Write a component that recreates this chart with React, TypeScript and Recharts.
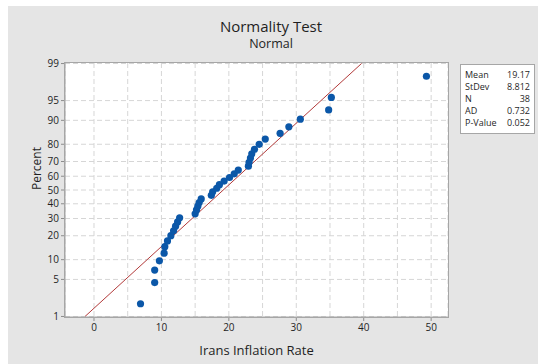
import React from 'react';
import { ScatterChart, Scatter, XAxis, YAxis, CartesianGrid, ReferenceLine } from 'recharts';

// Irans inflation rate, sorted
const rates = [
  6.9, 9.0, 9.0, 9.7, 10.4, 10.5, 10.9, 11.4, 11.8, 12.1, 12.4, 12.7, 15.0, 15.2, 15.4, 15.6,
  15.9, 17.4, 17.6, 18.2, 18.6, 19.3, 20.1, 20.8, 21.4, 22.9, 23.0, 23.2, 23.4, 23.8, 24.5,
  25.4, 27.6, 28.9, 30.6, 34.8, 35.2, 49.3,
];

// plotting positions (percent) for each point
const percents = [
  1.82, 4.43, 7.03, 9.64, 12.24, 14.84, 17.45, 20.05, 22.66, 25.26, 27.86, 30.47, 33.07, 35.68,
  38.28, 40.89, 43.49, 46.09, 48.7, 51.3, 53.91, 56.51, 59.11, 61.72, 64.32, 66.93, 69.53, 72.14,
  74.74, 77.34, 79.95, 82.55, 85.16, 87.76, 90.36, 92.97, 95.57, 98.18,
];

const percentTicks = [1, 5, 10, 20, 30, 40, 50, 60, 70, 80, 90, 95, 99];
const xTicks = [0, 5, 10, 15, 20, 25, 30, 35, 40, 45, 50];

const stats = [
  { label: 'Mean', value: '19.17' },
  { label: 'StDev', value: '8.812' },
  { label: 'N', value: '38' },
  { label: 'AD', value: '0.732' },
  { label: 'P-Value', value: '0.052' },
];

const MEAN = 19.17;
const SD = 8.812;

const FONT = '"Open Sans", "Noto Sans", sans-serif';
const TEXT = '#1f1f1f';
const BLUE = '#0b57a8';
const RED = '#b23a3a';

// inverse standard normal cdf (Acklam), used as the probability scale
function probit(p: number): number {
  const a = [-39.69683028665376, 220.9460984245205, -275.9285104469687, 138.357751867269, -30.66479806614716, 2.506628277459239];
  const b = [-54.47609879822406, 161.5858368580409, -155.6989798598866, 66.80131188771972, -13.28068155288572];
  const c = [-0.007784894002430293, -0.3223964580411365, -2.400758277161838, -2.549732539343734, 4.374664141464968, 2.938163982698783];
  const d = [0.007784695709041462, 0.3224671290700398, 2.445134137142996, 3.754408661907416];
  const lo = 0.02425;
  if (p < lo) {
    const q = Math.sqrt(-2 * Math.log(p));
    return (((((c[0] * q + c[1]) * q + c[2]) * q + c[3]) * q + c[4]) * q + c[5]) / ((((d[0] * q + d[1]) * q + d[2]) * q + d[3]) * q + 1);
  }
  if (p > 1 - lo) {
    const q = Math.sqrt(-2 * Math.log(1 - p));
    return -(((((c[0] * q + c[1]) * q + c[2]) * q + c[3]) * q + c[4]) * q + c[5]) / ((((d[0] * q + d[1]) * q + d[2]) * q + d[3]) * q + 1);
  }
  const q = p - 0.5;
  const r = q * q;
  return ((((((a[0] * r + a[1]) * r + a[2]) * r + a[3]) * r + a[4]) * r + a[5]) * q) / (((((b[0] * r + b[1]) * r + b[2]) * r + b[3]) * r + b[4]) * r + 1);
}

const points = rates.map((x, i) => ({ x, y: probit(percents[i] / 100) }));
const zTicks = percentTicks.map((p) => probit(p / 100));
const zLo = probit(0.01);
const zHi = probit(0.99);
const fitLine = [
  { x: MEAN + zLo * SD, y: zLo },
  { x: MEAN + zHi * SD, y: zHi },
];

const XTick = (props: any) => {
  const { x, y, payload } = props;
  const major = payload.value % 10 === 0;
  if (!major) return null;
  return (
    <g>
      <line x1={x} x2={x} y1={y - 6} y2={y - 2} stroke="#8c8c8c" />
      <text x={x} y={y} dy="0.75em" textAnchor="middle" fontSize={10} fill={TEXT} fontFamily={FONT}>
        {payload.value}
      </text>
    </g>
  );
};

const Dot = (props: any) => <circle cx={props.cx} cy={props.cy} r={3.6} fill={BLUE} />;

export default function App() {
  return (
    <div style={{ position: 'absolute', left: 0, top: 0, width: 538, height: 364, background: '#fff', fontFamily: FONT }}>
      <div style={{ position: 'absolute', left: 8, top: 6, width: 530, height: 358, background: '#e5e5e5' }} />
      <div style={{ position: 'absolute', left: 0, top: 16, width: 542, textAlign: 'center', fontSize: 15, color: TEXT }}>
        Normality Test
      </div>
      <div style={{ position: 'absolute', left: 0, top: 35, width: 542, textAlign: 'center', fontSize: 12.5, color: TEXT }}>
        Normal
      </div>
      <div style={{ position: 'absolute', left: 0, top: 0 }}>
        <ScatterChart width={538} height={364} margin={{ top: 63, right: 90, bottom: 0, left: 0 }}>
          <CartesianGrid stroke="#d6d6d6" strokeDasharray="5 3" fill="#ffffff" />
          <XAxis
            type="number"
            dataKey="x"
            domain={[-4.3, 52.5]}
            ticks={xTicks}
            allowDataOverflow
            height={47}
            tickLine={false}
            tickSize={4}
            axisLine={{ stroke: '#a6a6a6' }}
            tick={<XTick />}
            interval={0}
            label={{ value: 'Irans Inflation Rate', position: 'insideBottom', offset: 9, fontSize: 13, fill: TEXT, fontFamily: FONT }}
          />
          <YAxis
            type="number"
            dataKey="y"
            domain={[zLo - 0.01, zHi + 0.01]}
            ticks={zTicks}
            allowDataOverflow
            width={65}
            tickSize={4}
            interval={0}
            tickLine={{ stroke: '#8c8c8c' }}
            axisLine={{ stroke: '#a6a6a6' }}
            tick={{ fontSize: 10, fill: TEXT, fontFamily: FONT }}
            tickFormatter={(v: number) => String(percentTicks[zTicks.indexOf(v)] ?? '')}
            label={{ value: 'Percent', angle: -90, position: 'insideLeft', offset: 37, fontSize: 12, fill: TEXT, fontFamily: FONT }}
          />
          <ReferenceLine segment={fitLine} stroke={RED} strokeWidth={1} ifOverflow="hidden" />
          <Scatter data={points} shape={<Dot />} isAnimationActive={false} />
        </ScatterChart>
      </div>
      <div style={{ position: 'absolute', left: 64, top: 62, width: 383, height: 254, border: '1px solid #a6a6a6', pointerEvents: 'none' }} />
      <div
        style={{
          position: 'absolute',
          left: 460,
          top: 64,
          width: 75,
          height: 70,
          background: '#fff',
          border: '1px solid #a6a6a6',
          fontSize: 9,
          color: TEXT,
          boxSizing: 'border-box',
          padding: '4px 4px 0 4px',
        }}
      >
        {stats.map((s) => (
          <div key={s.label} style={{ display: 'flex', justifyContent: 'space-between', height: 12, lineHeight: '12px' }}>
            <span>{s.label}</span>
            <span>{s.value}</span>
          </div>
        ))}
      </div>
    </div>
  );
}
